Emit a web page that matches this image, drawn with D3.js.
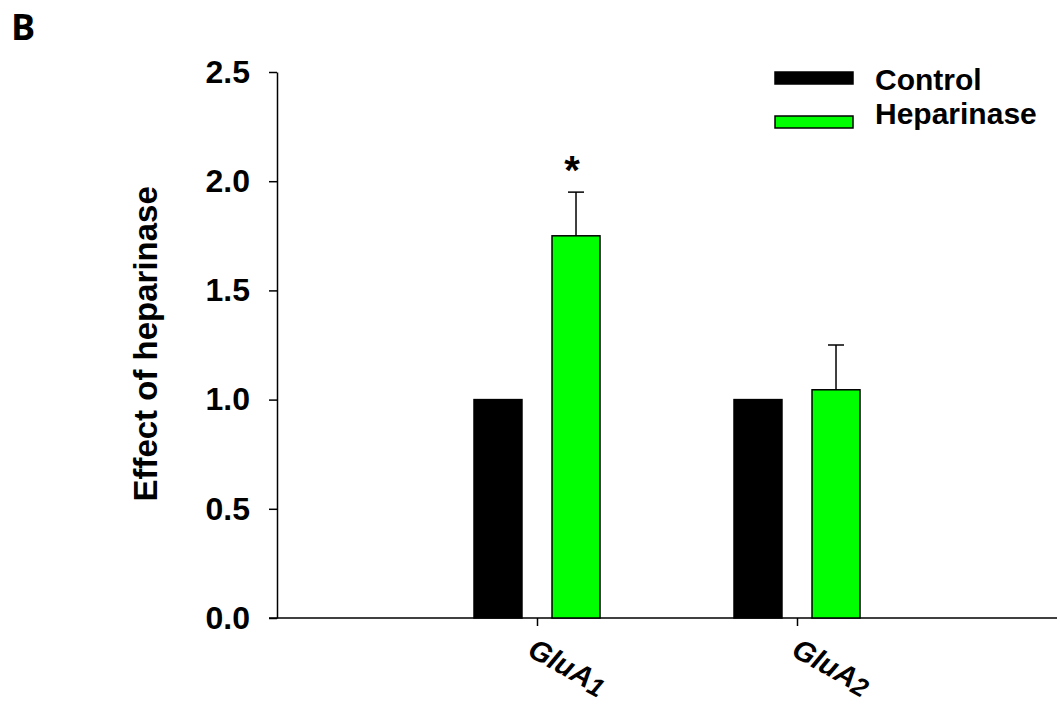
<!DOCTYPE html>
<html>
<head>
<meta charset="utf-8">
<script src="https://cdn.jsdelivr.net/npm/d3@7"></script>
<style>
    body { margin: 0; background: #fff; }
    text { font-family: "Liberation Sans", Arial, sans-serif; font-weight: bold; fill: #000; }
    .axis path, .axis line { stroke: #000; stroke-width: 1.5px; }
</style>
</head>
<body>
<div id="chart"></div>
<script>
// data
const categories = ["GluA1", "GluA2"];
const series = ["Control", "Heparinase"];
const seriesColors = ["#000000", "#00ff00"];
const controlValues = [1.0, 1.0];
const heparinaseValues = [1.75, 1.045];
const heparinaseErrors = [0.20, 0.205];
const significance = ["*", ""];
const yTicks = [0, 0.5, 1.0, 1.5, 2.0, 2.5];

const width = 1060, height = 706;
const margin = {top: 72, right: 3, bottom: 88, left: 277};

const svg = d3.select("#chart").append("svg")
    .attr("width", width)
    .attr("height", height);

// scales
const y = d3.scaleLinear().domain([0, 2.5]).range([height - margin.bottom, margin.top]);
const x = d3.scalePoint().domain(categories).range([margin.left, width - margin.right]).padding(1);
const xSub = d3.scaleBand().domain(series).range([-63, 63]).paddingInner(0.385);
const color = d3.scaleOrdinal().domain(series).range(seriesColors);

// panel letter
svg.append("text")
    .attr("x", 11)
    .attr("y", 40)
    .style("font-family", "'Open Sans', sans-serif")
    .style("font-size", "36px")
    .text("B");

// y axis
svg.append("g")
    .attr("class", "yaxis axis")
    .attr("transform", `translate(${margin.left},0)`)
    .call(d3.axisLeft(y).tickValues(yTicks).tickFormat(d3.format(".1f"))
        .tickSize(8).tickSizeOuter(0).tickPadding(19))
    .selectAll("text")
    .style("font-size", "32px");

// x axis
const xAxis = svg.append("g")
    .attr("class", "xaxis axis")
    .attr("transform", `translate(0,${y(0)})`)
    .call(d3.axisBottom(x).tickSize(8).tickSizeOuter(0).tickFormat(""));
xAxis.select(".domain").attr("d", `M${margin.left - 8},0H${width - margin.right}`);

// rotated category labels with subscript
categories.forEach(function(c, i) {
    const t = svg.append("text")
        .attr("transform", `translate(${x(c) - 11 + i * 4},${y(0) + 37}) rotate(29)`)
        .style("font-size", "29px")
        .style("font-style", "italic");
    t.append("tspan").text(c.slice(0, -1));
    t.append("tspan").attr("dy", 3).style("font-size", "26px").text(c.slice(-1));
});

// y title
svg.append("text")
    .attr("transform", `translate(157,${y(1.255)}) rotate(-90)`)
    .attr("text-anchor", "middle")
    .style("font-size", "33px")
    .text("Effect of heparinase");

// bars
const rows = categories.map((c, i) => ({
    cat: c,
    values: [
        {key: series[0], value: controlValues[i], err: 0},
        {key: series[1], value: heparinaseValues[i], err: heparinaseErrors[i], sig: significance[i]}
    ]
}));

const groups = svg.append("g").attr("id", "g_bars")
    .selectAll("g")
    .data(rows)
    .join("g")
    .attr("transform", d => `translate(${x(d.cat)},0)`);

groups.selectAll("rect")
    .data(d => d.values)
    .join("rect")
    .attr("x", d => xSub(d.key))
    .attr("y", d => y(d.value))
    .attr("width", xSub.bandwidth())
    .attr("height", d => y(0) - y(d.value))
    .style("fill", d => color(d.key))
    .style("stroke", "#000")
    .style("stroke-width", 1.5);

// error bars (upper only)
const errs = groups.selectAll("g.err")
    .data(d => d.values.filter(v => v.err > 0))
    .join("g")
    .attr("class", "err")
    .attr("transform", d => `translate(${xSub(d.key) + xSub.bandwidth() / 2},0)`);

errs.append("line")
    .attr("x1", 0).attr("x2", 0)
    .attr("y1", d => y(d.value))
    .attr("y2", d => y(d.value + d.err))
    .style("stroke", "#000").style("stroke-width", 1.5);

errs.append("line")
    .attr("x1", -8).attr("x2", 8)
    .attr("y1", d => y(d.value + d.err))
    .attr("y2", d => y(d.value + d.err))
    .style("stroke", "#000").style("stroke-width", 1.5);

errs.append("text")
    .attr("x", -4)
    .attr("y", d => y(d.value + d.err) - 8)
    .attr("text-anchor", "middle")
    .style("font-size", "40px")
    .text(d => d.sig);

// legend
const legend = svg.append("g").attr("id", "g_legend")
    .selectAll("g")
    .data(series)
    .join("g")
    .attr("transform", (d, i) => `translate(775,${[72, 116][i]})`);

legend.append("rect")
    .attr("width", 78)
    .attr("height", 12)
    .style("fill", d => color(d))
    .style("stroke", "#000")
    .style("stroke-width", 1.5);

legend.append("text")
    .attr("x", 100)
    .attr("y", (d, i) => [18, 8][i])
    .style("font-size", "30px")
    .text(d => d);
</script>
</body>
</html>
